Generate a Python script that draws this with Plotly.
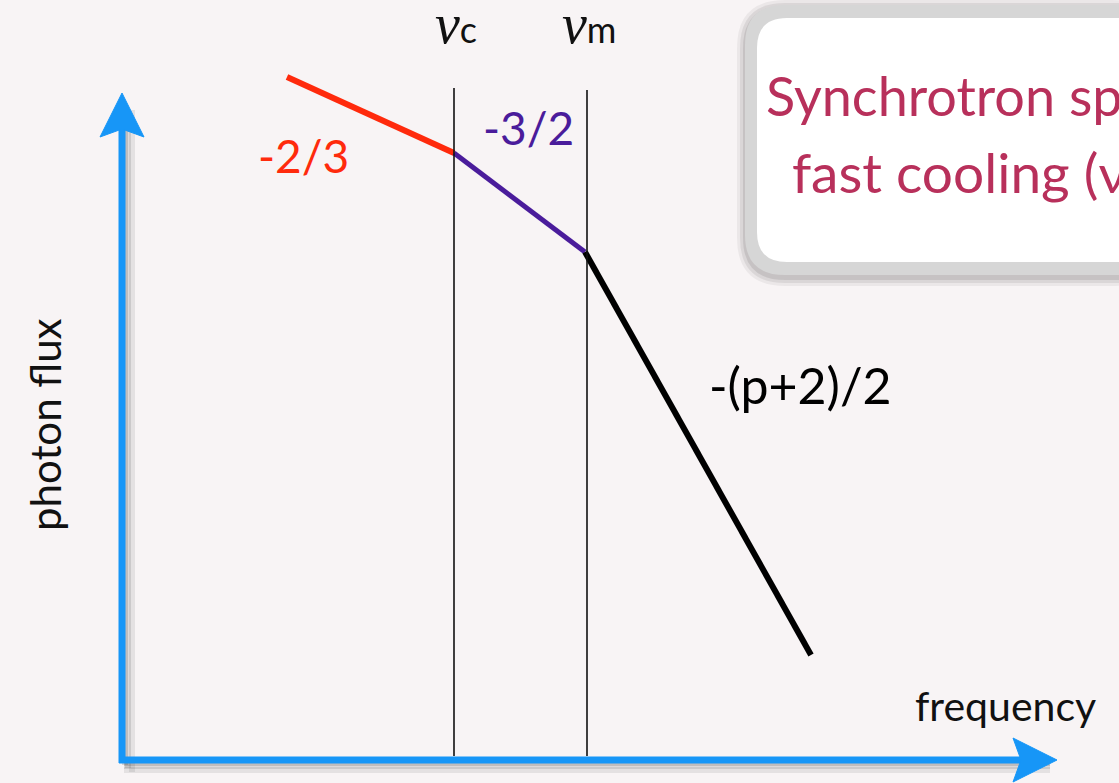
import plotly.graph_objects as go

# Schematic broken power-law (axis units == picture units)
break_x = [287, 454, 585, 811]
break_y = [77, 153, 252, 655]
seg_colors = ["#ff2a0c", "#4a1c9b", "#000000"]
seg_widths = [6, 5, 6]
slope_labels = ["-2/3", "-3/2", "-(p+2)/2"]
slope_label_x = [303, 528, 800]
slope_label_y = [155, 127, 385]
slope_label_size = [46, 46, 50]

nu_names = ["c", "m"]
nu_x = [454, 587]
nu_top = [88, 90]

W, H = 1119, 783
BG = "#f8f4f5"
BLUE = "#1796f7"
FONT = "Lato"

fig = go.Figure()

shapes = []
# axis shadows
for off, op in [(10, 0.10), (6, 0.14), (3, 0.18)]:
    shapes.append(dict(type="line", x0=122 + off, y0=110, x1=122 + off, y1=762 + off,
                       line=dict(color=f"rgba(60,60,60,{op})", width=6)))
    shapes.append(dict(type="line", x0=124, y0=760 + off, x1=1050, y1=760 + off,
                       line=dict(color=f"rgba(60,60,60,{op})", width=6)))
# blue axes
shapes.append(dict(type="line", x0=122, y0=763, x1=122, y1=125, line=dict(color=BLUE, width=7)))
shapes.append(dict(type="line", x0=119, y0=760, x1=1025, y1=760, line=dict(color=BLUE, width=7)))
shapes.append(dict(type="path", path="M 122 93 L 144 137 L 122 129 L 100 137 Z",
                   fillcolor=BLUE, line=dict(color=BLUE, width=1)))
shapes.append(dict(type="path", path="M 1057 760 L 1013 738 L 1021 760 L 1013 782 Z",
                   fillcolor=BLUE, line=dict(color=BLUE, width=1)))

# vertical break-frequency lines
for x, t in zip(nu_x, nu_top):
    shapes.append(dict(type="line", x0=x, y0=t, x1=x, y1=756, line=dict(color="#111111", width=1.6)))

# rounded box
def rrect(x0, y0, x1, y1, r):
    return (f"M {x0+r} {y0} L {x1-r} {y0} Q {x1} {y0} {x1} {y0+r} L {x1} {y1-r} "
            f"Q {x1} {y1} {x1-r} {y1} L {x0+r} {y1} Q {x0} {y1} {x0} {y1-r} "
            f"L {x0} {y0+r} Q {x0} {y0} {x0+r} {y0} Z")
for g, op in [(8, 0.05), (5, 0.07), (2, 0.09)]:
    shapes.append(dict(type="path", path=rrect(745 - g, 5 - g + 3, 1160, 275 + g + 3, 40 + g),
                       fillcolor=f"rgba(0,0,0,{op})", line=dict(width=0)))
shapes.append(dict(type="path", path=rrect(745, 5, 1160, 275, 40), fillcolor="#d6d6d6", line=dict(width=0)))
shapes.append(dict(type="path", path=rrect(757, 18, 1160, 262, 30), fillcolor="#ffffff", line=dict(width=0)))

# spectrum segments
for i in range(3):
    fig.add_trace(go.Scatter(x=break_x[i:i + 2], y=break_y[i:i + 2], mode="lines",
                             line=dict(color=seg_colors[i], width=seg_widths[i]),
                             hoverinfo="skip", showlegend=False))

annotations = []
for lab, x, y, c, s in zip(slope_labels, slope_label_x, slope_label_y, seg_colors, slope_label_size):
    annotations.append(dict(x=x, y=y, text=lab, showarrow=False, xanchor="center", yanchor="middle",
                            font=dict(family=FONT, size=s, color=c)))
for n, x in zip(nu_names, nu_x):
    annotations.append(dict(x=x + 2, y=24, showarrow=False, xanchor="center", yanchor="middle",
                            text=f"<i><span style='font-family:Liberation Serif;font-size:56px'>ν</span></i>{n}",
                            font=dict(family=FONT, size=36, color="#111111")))
annotations.append(dict(x=1005, y=705, text="frequency", showarrow=False, xanchor="center", yanchor="middle",
                        font=dict(family=FONT, size=41, color="#111111")))
annotations.append(dict(x=45, y=425, text="photon flux", showarrow=False, textangle=-90,
                        xanchor="center", yanchor="middle", font=dict(family=FONT, size=42, color="#111111")))
annotations.append(dict(x=764, y=95, text="Synchrotron spectrum", showarrow=False, xanchor="left",
                        yanchor="middle", font=dict(family=FONT, size=54, color="#b8305b")))
annotations.append(dict(x=790, y=176, text="fast cooling (ν<sub>c</sub> < ν<sub>m</sub>)", showarrow=False,
                        xanchor="left", yanchor="middle", font=dict(family=FONT, size=55, color="#b8305b")))

fig.update_layout(
    width=W, height=H, margin=dict(l=0, r=0, t=0, b=0),
    paper_bgcolor=BG, plot_bgcolor=BG,
    xaxis=dict(range=[0, W], visible=False, fixedrange=True),
    yaxis=dict(range=[H, 0], visible=False, fixedrange=True),
    shapes=shapes, annotations=annotations,
)
fig.write_html("out.html", config={"displayModeBar": False},
               post_script="document.body.style.margin='0';document.body.style.overflow='hidden';")
